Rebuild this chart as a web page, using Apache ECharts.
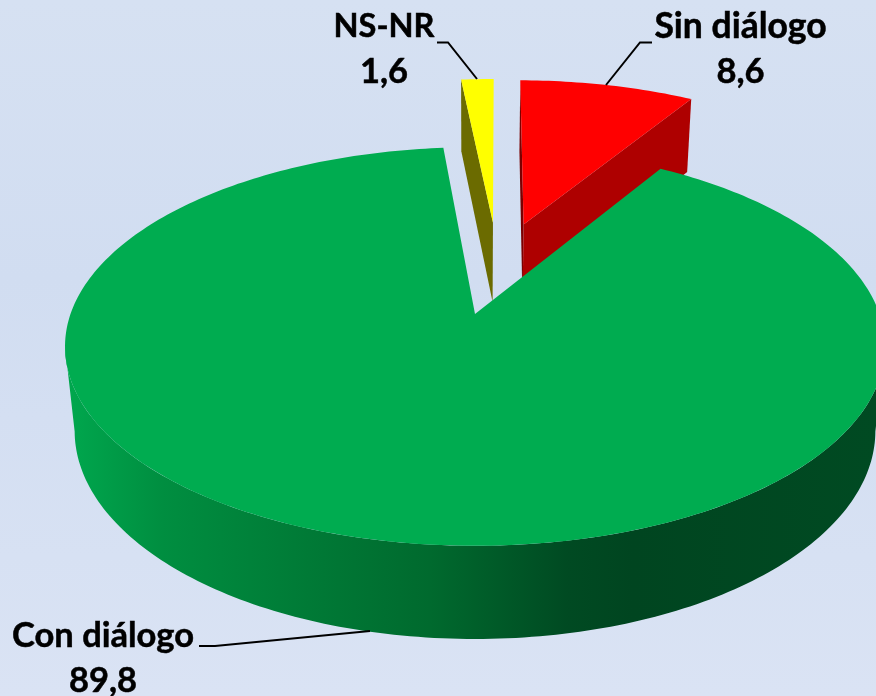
<!DOCTYPE html>
<html>
<head>
<meta charset="utf-8">
<style>html,body{margin:0;padding:0;background:#d6e1f2}#c{width:876px;height:696px}</style>
<script src="https://cdn.jsdelivr.net/npm/echarts@6/dist/echarts.min.js"></script>
</head>
<body>
<div id="c"></div>
<script>
// Data (clockwise from the start angle)
const categories = ['Con diálogo', 'NS-NR', 'Sin diálogo'];
const seriesValues = [89.8, 1.6, 8.6];
const valueLabels = ['89,8', '1,6', '8,6'];

// Styling and layout
const topColors = ['#00AC50', '#FFFF00', '#FF0000'];
const faceStart = [null, '#6B6B00', '#7A0000'];
const faceEnd = [null, null, '#AE0000'];
const startAngle = 31.5, explode = 0.258;
const V = {ox: 475, oy: 314, A: 404.5, B: 194, C: 85.6, k: 0.163, m: 0.0234};
const labelBox = [
  {x: 103, y1: 636, y2: 681, size: 34.5, line: [[199, 646], [215, 646], [370, 631]]},
  {x: 384, y1: 27, y2: 72, size: 32.5, line: [[437, 42.5], [448, 42.5], [477, 79]]},
  {x: 740.5, y1: 27, y2: 72, size: 35.5, line: [[652, 42.5], [640, 42.5], [606, 85]]}
];
const fontOf = size => 'bold ' + size + 'px Lato, "Open Sans", sans-serif';

const rad = d => d * Math.PI / 180;
const total = seriesValues.reduce((a, b) => a + b, 0);
let acc = startAngle;
const slices = seriesValues.map(v => {
  const a0 = acc, a1 = acc + v / total * 360;
  acc = a1;
  const mid = rad((a0 + a1) / 2);
  return {a0, a1, dx: explode * Math.sin(mid), dy: explode * Math.cos(mid)};
});
// The view origin sits on the apex of the largest slice
const ref = slices[0];
function project(x, y, z) {
  const wx = x - ref.dx, wy = y - ref.dy;
  const w = 1 + V.k * wy + V.m * z;
  return [V.ox + V.A * wx / w, V.oy + (-V.B * wy + V.C * z) / w];
}
function rim(s, z, from, to) {
  const n = Math.max(2, Math.ceil(Math.abs(to - from)));
  const pts = [];
  for (let i = 0; i <= n; i++) {
    const t = rad(from + (to - from) * i / n);
    pts.push(project(s.dx + Math.sin(t), s.dy + Math.cos(t), z));
  }
  return pts;
}
const poly = (points, fill, z2) => ({type: 'polygon', shape: {points}, style: {fill, stroke: null}, z2, silent: true});

function renderItem(params, api) {
  const i = params.dataIndex, s = slices[i];
  const base = i === 0 ? 20 : 1;
  const apexTop = project(s.dx, s.dy, 0), apexBot = project(s.dx, s.dy, 1);
  const children = [];
  if (i === 0) {
    // only the outward wall that faces the viewer, between the two silhouette tangents
    const tangent = Math.acos(-V.k) * 180 / Math.PI;
    const from = tangent, to = 360 - tangent;
    const wall = rim(s, 0, from, to).concat(rim(s, 1, from, to).reverse());
    children.push(poly(wall, new echarts.graphic.LinearGradient(65, 0, 876, 0, [
      {offset: 0, color: '#00A84E'},
      {offset: 0.12, color: '#008E40'},
      {offset: 0.3, color: '#007A36'},
      {offset: 0.45, color: '#006A2E'},
      {offset: 0.62, color: '#004A22'},
      {offset: 0.7, color: '#004520'},
      {offset: 1, color: '#004A22'}
    ], true), base));
  } else {
    // radial cut faces seen from the viewer
    const t0 = rim(s, 0, s.a0, s.a0)[0], b0 = rim(s, 1, s.a0, s.a0)[0];
    const t1 = rim(s, 0, s.a1, s.a1)[0], b1 = rim(s, 1, s.a1, s.a1)[0];
    if (faceStart[i]) children.push(poly([apexTop, t0, b0, apexBot], faceStart[i], base));
    if (faceEnd[i]) children.push(poly([apexTop, t1, b1, apexBot], faceEnd[i], base));
  }
  children.push(poly([apexTop].concat(rim(s, 0, s.a0, s.a1)), topColors[i], base + 1));
  const L = labelBox[i];
  children.push({type: 'polyline', shape: {points: L.line}, style: {stroke: '#000', lineWidth: 2, fill: null}, z2: 40, silent: true});
  [[categories[i], L.y1, L.size], [valueLabels[i], L.y2, 34.5]].forEach(([text, y, size]) => {
    children.push({type: 'text', z2: 41, silent: true, style: {
      text, x: L.x, y, font: fontOf(size), fill: '#000', align: 'center', verticalAlign: 'middle',
      stroke: '#000', lineWidth: 0.5
    }});
  });
  return {type: 'group', children};
}

const chart = echarts.init(document.getElementById('c'), null, {renderer: 'canvas', width: 876, height: 696});
chart.setOption({
  animation: false,
  backgroundColor: new echarts.graphic.LinearGradient(0, 0, 0, 1, [
    {offset: 0, color: '#D6E1F2'},
    {offset: 0.4, color: '#D1DDF1'},
    {offset: 1, color: '#DAE3F4'}
  ]),
  series: [{
    type: 'custom',
    coordinateSystem: 'none',
    silent: true,
    clip: false,
    renderItem,
    data: seriesValues.map((value, i) => ({name: categories[i], value}))
  }]
});
</script>
</body>
</html>
